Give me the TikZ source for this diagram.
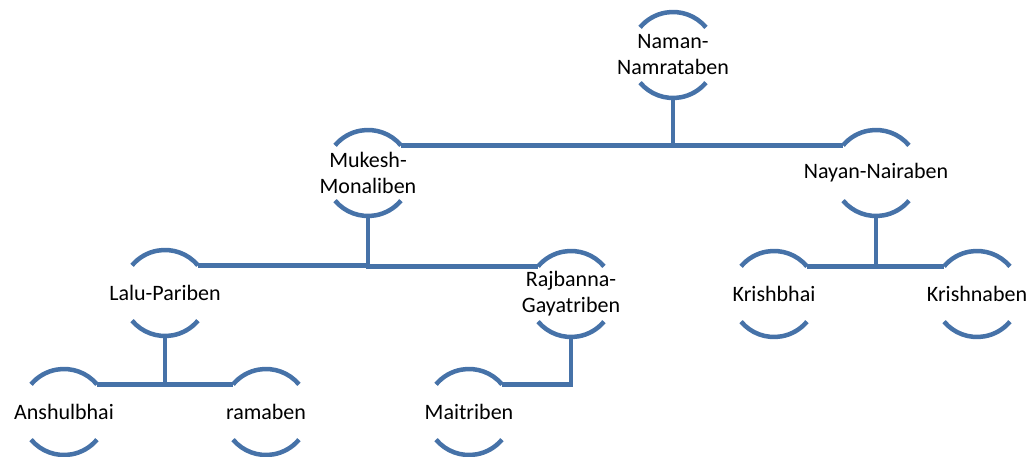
\documentclass[tikz,border=0pt]{standalone}
\usepackage{fontspec}
\setmainfont{Carlito}
\definecolor{lineblue}{RGB}{70,114,168}
\tikzset{
  ring/.style={circle, minimum size=86pt, inner sep=0pt, outer sep=0pt, draw=none},
  nametext/.style={align=center, inner sep=0pt, text=black, font=\fontsize{22}{26}\selectfont},
  rim/.style={draw=lineblue, line width=4.5pt},
  link/.style={draw=lineblue, line width=4.5pt}
}
\newcommand\famnode[3]{%
  \node[ring] (#1) at (#2) {};
  \node[nametext] (#1-txt) at (#1.center) {#3};
  \draw[rim] (#1.40) arc[start angle=40, end angle=140, radius=43pt];
  \draw[rim] (#1.220) arc[start angle=220, end angle=320, radius=43pt];
}
\begin{document}
\begin{tikzpicture}[x=1pt, y=1pt]
\useasboundingbox (0,0) rectangle (1032,457);
\famnode{naman}{673,402}{Naman-\\Namrataben}
\famnode{mukesh}{368,284}{Mukesh-\\Monaliben}
\famnode{nayan}{876,284}{Nayan-Nairaben}
\famnode{lalu}{165,164}{Lalu-Pariben}
\famnode{raj}{571,163}{Rajbanna-\\Gayatriben}
\famnode{krishbhai}{774,163}{Krishbhai}
\famnode{krishnaben}{977,163}{Krishnaben}
\famnode{anshul}{64,45}{Anshulbhai}
\famnode{rama}{266,45}{ramaben}
\famnode{maitri}{469,45}{Maitriben}
\draw[link] (naman.south) |- (mukesh.40);
\draw[link] (naman.south) |- (nayan.140);
\draw[link] (mukesh.south) |- (lalu.40);
\draw[link] (mukesh.south) |- (raj.140);
\draw[link] (nayan.south) |- (krishbhai.40);
\draw[link] (nayan.south) |- (krishnaben.140);
\draw[link] (lalu.south) |- (anshul.40);
\draw[link] (lalu.south) |- (rama.140);
\draw[link] (raj.south) |- (maitri.40);
\end{tikzpicture}
\end{document}
